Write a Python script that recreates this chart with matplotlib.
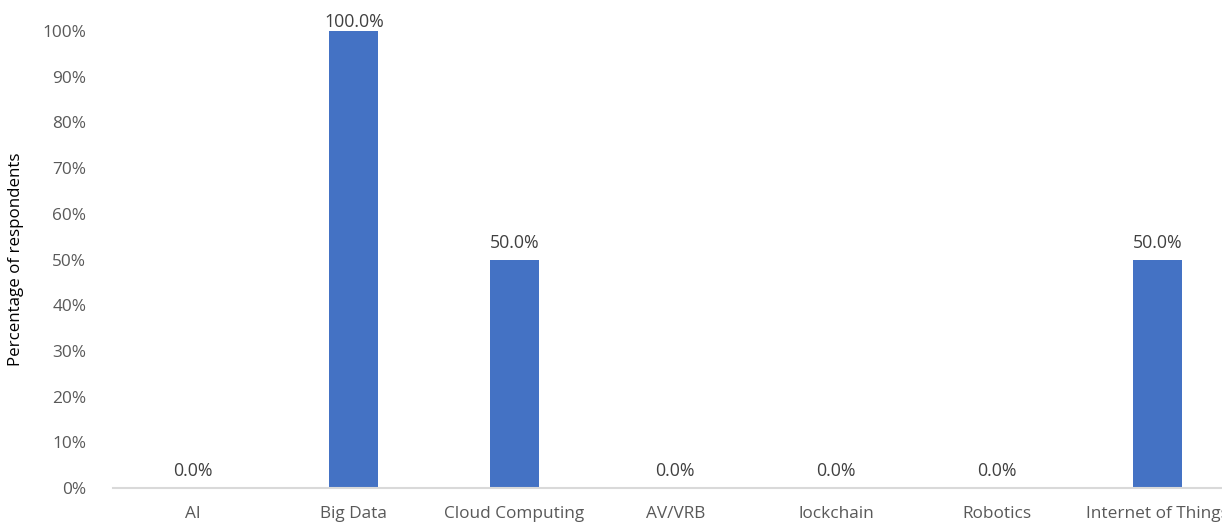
import matplotlib
matplotlib.use("Agg")
from matplotlib import pyplot as plt
from matplotlib.ticker import PercentFormatter

plt.rcParams['font.family'] = ['Open Sans', 'DejaVu Sans']

categories = ["AI", "Big Data", "Cloud Computing", "AV/VRB", "lockchain", "Robotics", "Internet of Things"]
values = [0.0, 1.0, 0.5, 0.0, 0.0, 0.0, 0.5]
yticks = [0, 0.1, 0.2, 0.3, 0.4, 0.5, 0.6, 0.7, 0.8, 0.9, 1.0]

text_color = "#595959"
bar_color = "#4472C4"

fig = plt.figure(figsize=(12.22, 5.22), dpi=100)
ax = fig.add_axes([0.0922, 0.0651, 1 - 0.0922, 0.8755])

x = list(range(len(categories)))
ax.bar(x, values, width=0.305, color=bar_color, zorder=2)

ax.set_xlim(-0.5, 6.40)
ax.set_ylim(0, 1.0)
ax.set_yticks(yticks)
ax.yaxis.set_major_formatter(PercentFormatter(1.0, decimals=0))
ax.set_xticks(x)
ax.set_xticklabels(categories)

for s in ["top", "right", "left"]:
    ax.spines[s].set_visible(False)
ax.spines["bottom"].set_color("#D9D9D9")
ax.spines["bottom"].set_linewidth(1.5)

ax.tick_params(axis="both", length=0, colors=text_color, labelsize=12.4)
ax.tick_params(axis="x", pad=13)
ax.tick_params(axis="y", pad=19)

ax.set_ylabel("Percentage of respondents", color="black", fontsize=12.2, labelpad=13)

# data labels
for xi, v in zip(x, values):
    off = 9 if v >= 1.0 else 17
    ax.annotate("%.1f%%" % (v * 100), (xi, v), xytext=(0, off * 0.72),
                textcoords="offset points", ha="center", va="center",
                color="#404040", fontsize=12.8, annotation_clip=False)

fig.savefig("out.png", dpi=100)
